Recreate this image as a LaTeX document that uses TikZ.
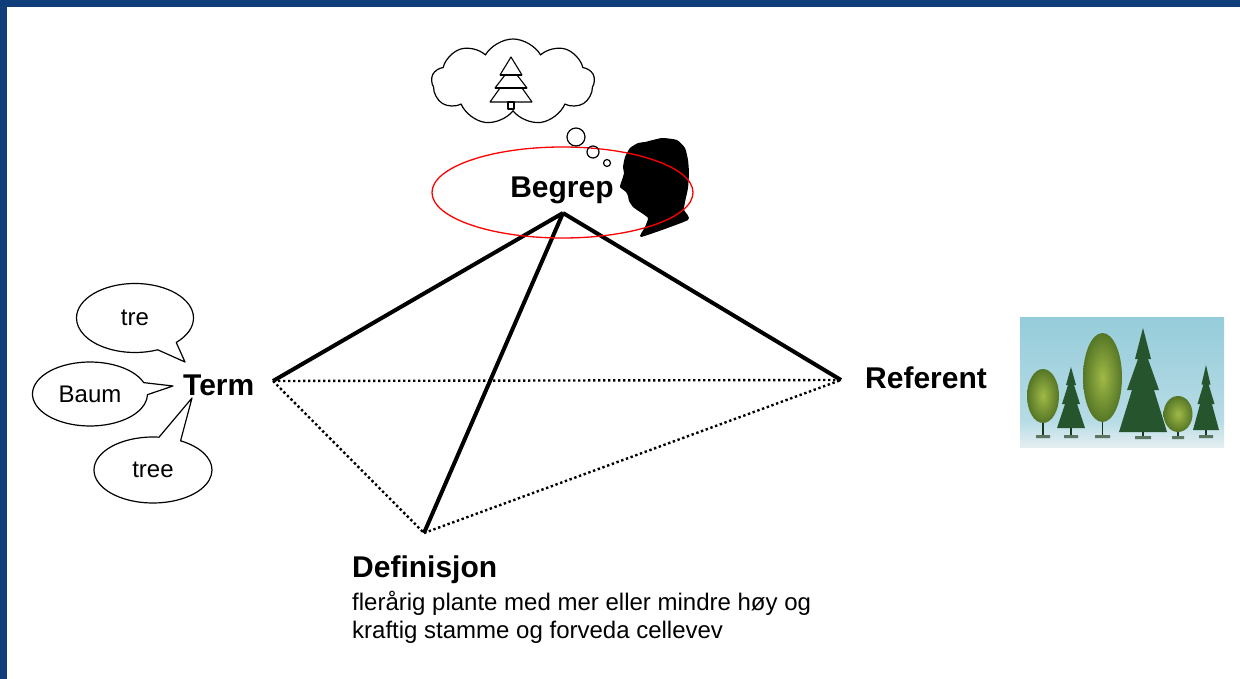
\documentclass[tikz,border=0pt]{standalone}
\usepackage{fontspec}
\setmainfont{Liberation Sans}
\usetikzlibrary{shapes.geometric,shapes.symbols,shapes.callouts}

\definecolor{frameblue}{RGB}{16,62,122}
\definecolor{skyblue}{RGB}{150,204,218}
\definecolor{groundgrey}{RGB}{228,238,241}
\definecolor{leafgreen}{RGB}{160,185,70}
\definecolor{leafdark}{RGB}{85,118,38}
\definecolor{firgreen}{RGB}{38,84,44}
\definecolor{firdark}{RGB}{22,58,30}

\begin{document}
\begin{tikzpicture}[x=1pt, y=-1pt, line join=round,
	label/.style={font=\fontsize{30}{36}\selectfont\bfseries, inner sep=0pt},
	bubble/.style={ellipse callout, draw, line width=1.2pt, fill=white, inner sep=0pt, callout pointer arc=22, font=\fontsize{24}{28}\selectfont},
	solidedge/.style={line width=4pt},
	dottededge/.style={line width=2.4pt, dash pattern=on 2.4pt off 2.6pt},
	puff/.style={circle, draw, line width=1.2pt, inner sep=0pt}]

		% Frame
		\useasboundingbox (0,0) rectangle (1240,679);
		\fill[white] (0,0) rectangle (1240,679);
		\fill[frameblue] (0,0) rectangle (1240,7);
		\fill[frameblue] (0,0) rectangle (7,679);

		% Define the corners
		\coordinate (begrep_pt) at (563,213);
		\coordinate (term_pt) at (273,381);
		\coordinate (referent_pt) at (841,380);
		\coordinate (definisjon_pt) at (424,533);

		% Define the edges
		\draw[dottededge] (term_pt) -- (referent_pt);
		\draw[dottededge] (term_pt) -- (definisjon_pt);
		\draw[dottededge] (definisjon_pt) -- (referent_pt);
		\draw[solidedge] (begrep_pt) -- (term_pt);
		\draw[solidedge] (begrep_pt) -- (referent_pt);
		\draw[solidedge] (begrep_pt) -- (definisjon_pt);

		% Head
		\fill plot[smooth cycle, tension=0.3] coordinates {(645,142) (662,138) (677,140) (685,148) (688,160)
			(689,173) (688,188) (685,202) (684,210) (688,220) (641,237) (645,227) (648,218) (640,212)
			(633,207) (629,201) (628,196) (626,192) (620,187) (622,180) (624,173) (623,167) (625,157)
			(630,148) (638,143)};

		% Define the nodes
		\node[draw=red, line width=1.3pt, ellipse, minimum width=261, minimum height=91] (begrep_ring) at (562.5,192.5) {};
		\node[label, anchor=base] (begrep) at (562,198) {Begrep};
		\node[label, anchor=base west] (term) at (183,395) {Term};
		\node[label, anchor=base west] (referent) at (865,388) {Referent};
		\node[label, anchor=base west] (definisjon) at (352,577) {Definisjon};
		\node[anchor=north west, inner sep=0pt, align=left, font=\fontsize{24}{27.5}\selectfont] (definition) at (352,591)
			{flerårig plante med mer eller mindre høy og\\kraftig stamme og forveda cellevev};

		% Speech bubbles
		\node[bubble, minimum width=117, minimum height=69, callout absolute pointer={(185,362)}] (tre) at (135,318) {tre};
		\node[bubble, minimum width=115, minimum height=64, callout absolute pointer={(173,386)}] (baum) at (90,394) {Baum};
		\node[bubble, minimum width=118, minimum height=66, callout absolute pointer={(192,398)}] (tree) at (153,470) {tree};

		% Thought cloud
		\node[cloud, draw, line width=1.2pt, cloud puffs=9, cloud puff arc=120, aspect=1.9, minimum width=163, minimum height=86] (thought) at (513,82) {};
		\node[puff, minimum size=18] (puff_a) at (576,137) {};
		\node[puff, minimum size=12] (puff_b) at (593,152) {};
		\node[puff, minimum size=7] (puff_c) at (607,163) {};
		\draw[line width=1.1pt] (511,57) -- (522,75) -- (517,75) -- (527,88) -- (522,88) -- (532,102)
			-- (490,102) -- (500,88) -- (495,88) -- (505,75) -- (500,75) -- cycle;
		\draw[line width=1.1pt] (500,75) -- (522,75) (495,88) -- (527,88);
		\draw[line width=1.1pt] (508,102) rectangle (514,109);

		% Referent picture
		\shade[top color=skyblue, bottom color=skyblue!70!white] (1020,317) rectangle (1224,420);
		\shade[top color=skyblue!70!white, bottom color=groundgrey] (1020,420) rectangle (1224,447);
		\draw[line width=1.6pt, firdark] (1043,418) -- (1043,436) (1071,425) -- (1071,436)
			(1102.5,418) -- (1102.5,436) (1143,430) -- (1143,437) (1178,428) -- (1178,437) (1206,428) -- (1206,436);
		\fill[firdark!70] (1036,435) rectangle (1050,438) (1064,435) rectangle (1078,438)
			(1095,435) rectangle (1110,438) (1135,436) rectangle (1151,439) (1172,436) rectangle (1184,439)
			(1199,435) rectangle (1213,438);
		\shade[inner color=leafgreen, outer color=leafdark] (1043,396) ellipse [x radius=16, y radius=27];
		\shade[inner color=leafgreen, outer color=leafdark] (1102.5,377.5) ellipse [x radius=19.5, y radius=44.5];
		\shade[inner color=leafgreen, outer color=leafdark] (1178,414) ellipse [x radius=14.5, y radius=18];
		\fill[firgreen] (1071,367) -- (1076,385) -- (1074,385) -- (1080,404) -- (1077,404) -- (1085,428)
			-- (1057,428) -- (1065,404) -- (1062,404) -- (1068,385) -- (1066,385) -- cycle;
		\fill[firgreen] (1143,328) -- (1151,359) -- (1148,359) -- (1159,390) -- (1154,390) -- (1167,432)
			-- (1119,432) -- (1132,390) -- (1127,390) -- (1138,359) -- (1135,359) -- cycle;
		\fill[firgreen] (1206,365) -- (1210.5,384.5) -- (1208.6,384.5) -- (1214.5,404) -- (1211.9,404) -- (1219,430)
			-- (1193,430) -- (1200.1,404) -- (1197.5,404) -- (1203.4,384.5) -- (1201.5,384.5) -- cycle;

	\end{tikzpicture}
\end{document}
